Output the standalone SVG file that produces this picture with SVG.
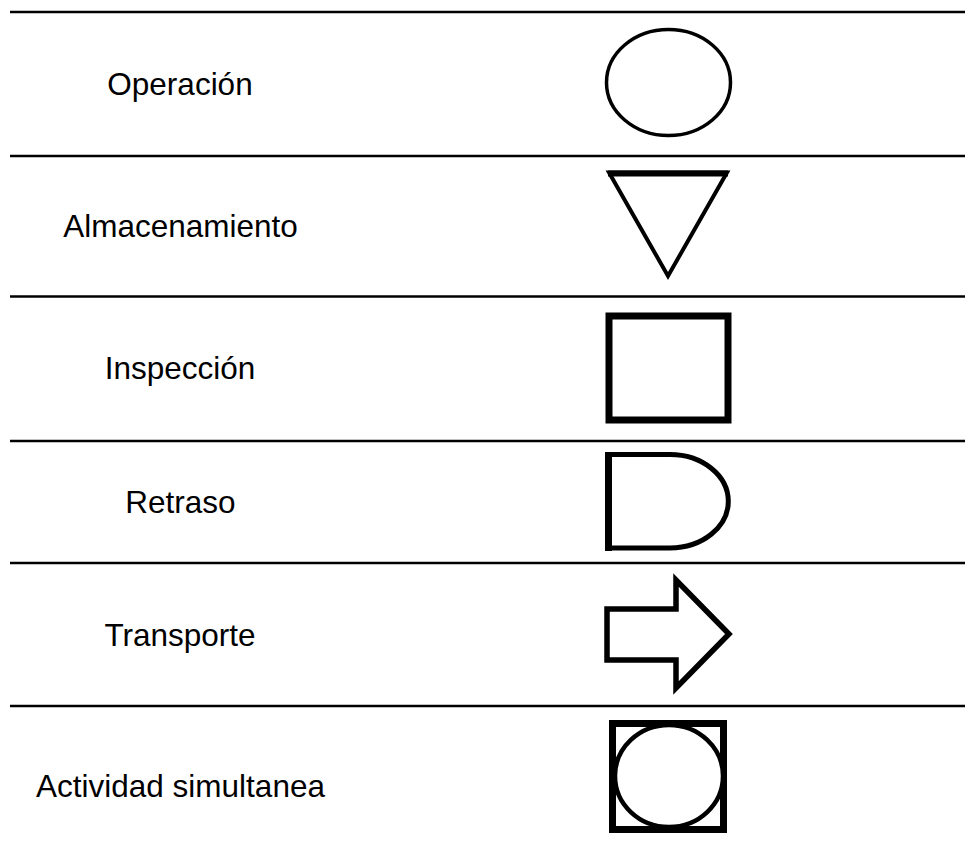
<svg xmlns="http://www.w3.org/2000/svg" width="975" height="844" viewBox="0 0 975 844">
<style>
.lbl{font-family:"Liberation Sans",Arial,sans-serif;font-size:31.5px;fill:#000;text-anchor:middle}
.rule{stroke:#000;stroke-width:2.5}
.sym{fill:#fff;stroke:#000}
</style>
<rect width="975" height="844" fill="#fff"/>
<g id="rules">
<line class="rule" x1="10" y1="12" x2="965" y2="12"/>
<line class="rule" x1="10" y1="156" x2="965" y2="156"/>
<line class="rule" x1="10" y1="296.5" x2="965" y2="296.5"/>
<line class="rule" x1="10" y1="441" x2="965" y2="441"/>
<line class="rule" x1="10" y1="563" x2="965" y2="563"/>
<line class="rule" x1="10" y1="706" x2="965" y2="706"/>
</g>
<g id="operacion">
<text class="lbl" x="180" y="95">Operación</text>
<ellipse class="sym" cx="668.5" cy="82.5" rx="62" ry="53" stroke-width="3.5"/>
</g>
<g id="almacenamiento">
<text class="lbl" x="180.5" y="237">Almacenamiento</text>
<polygon class="sym" points="609,172.5 727,172.5 668,276" stroke-width="4"/>
<line x1="608" y1="173.5" x2="728" y2="173.5" stroke="#000" stroke-width="6"/>
</g>
<g id="inspeccion">
<text class="lbl" x="180" y="379">Inspección</text>
<rect class="sym" x="609" y="316" width="119" height="104" stroke-width="7"/>
</g>
<g id="retraso">
<text class="lbl" x="180.5" y="513">Retraso</text>
<path class="sym" d="M608.5,454.5 H670 A58,46.5 0 0 1 670,548 H608.5 Z" stroke-width="5"/>
<line x1="608.5" y1="452" x2="608.5" y2="551" stroke="#000" stroke-width="7"/>
</g>
<g id="transporte">
<text class="lbl" x="180" y="645.5">Transporte</text>
<polygon class="sym" points="607,609 676,609 676,580 729,634 676,688 676,660 607,660" stroke-width="5.5"/>
</g>
<g id="actividad-simultanea">
<text class="lbl" x="180.5" y="797">Actividad simultanea</text>
<rect class="sym" x="612.5" y="723.5" width="111" height="106" stroke-width="7"/>
<ellipse class="sym" cx="669" cy="776" rx="54" ry="51" stroke-width="4.5"/>
</g>
<g id="connectors"></g>
</svg>
